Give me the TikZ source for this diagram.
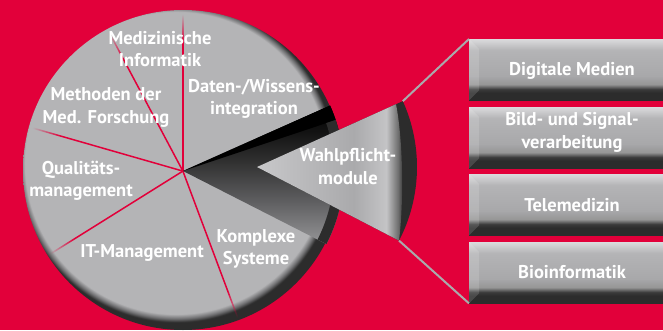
\documentclass[tikz,border=0pt]{standalone}
\usepackage{fontspec}
\setmainfont{PT Sans}
\usetikzlibrary{fadings}
\definecolor{bgred}{RGB}{226,0,58}
\definecolor{pgray}{RGB}{180,180,182}
\definecolor{pmid}{RGB}{112,112,114}
\definecolor{rimdark}{RGB}{44,44,44}
\definecolor{gA}{RGB}{150,150,152}
\definecolor{gB}{RGB}{96,96,98}
\definecolor{gC}{RGB}{48,48,48}
\definecolor{gD}{RGB}{20,20,20}
\definecolor{wA}{RGB}{200,200,202}
\definecolor{wB}{RGB}{184,184,186}
\definecolor{wC}{RGB}{170,170,172}
\definecolor{wD}{RGB}{196,196,198}
\definecolor{wE}{RGB}{110,110,110}
\definecolor{bA}{RGB}{218,218,220}
\definecolor{bB}{RGB}{206,206,208}
\definecolor{bC}{RGB}{180,180,182}
\definecolor{bD}{RGB}{168,168,170}
\definecolor{bE}{RGB}{150,150,150}
\definecolor{bF}{RGB}{58,58,58}
\definecolor{conn}{RGB}{170,170,172}
\pgfdeclareradialshading{pieface}{\pgfpoint{-2.1bp}{2.1bp}}{color(0bp)=(pgray); color(23.6bp)=(pgray); color(24.3bp)=(pmid); color(24.85bp)=(rimdark); color(50bp)=(rimdark)}
\pgfdeclareverticalshading{gapsh}{100bp}{color(0bp)=(gA); color(25bp)=(gA); color(40bp)=(gB); color(55bp)=(gC); color(65bp)=(gD); color(75bp)=(black); color(100bp)=(black)}
\pgfdeclarehorizontalshading{wedgesh}{100bp}{color(0bp)=(wA); color(25bp)=(wA); color(42bp)=(wB); color(58bp)=(wC); color(69bp)=(wD); color(73bp)=(wE); color(75bp)=(rimdark); color(100bp)=(rimdark)}
\pgfdeclareverticalshading{boxsh}{100bp}{color(0bp)=(rimdark); color(25bp)=(rimdark); color(31bp)=(rimdark); color(34bp)=(bF); color(38bp)=(bE); color(45bp)=(bD); color(66bp)=(bC); color(72bp)=(bB); color(75bp)=(bA); color(100bp)=(bA)}
\pgfdeclareradialshading{lfadesh}{\pgfpointorigin}{color(0bp)=(white); color(20bp)=(white); color(24.5bp)=(black); color(50bp)=(black)}
\pgfdeclarefading{linefade}{\pgfuseshading{lfadesh}}
\begin{document}
\begin{tikzpicture}[x=1pt,y=1pt,
  lbl/.style={text=white, font=\bfseries\fontsize{18.5}{22.5}\selectfont, align=center, inner sep=0pt},
  redline/.style={draw=bgred, line width=1.5pt},
  connline/.style={draw=conn, line width=2pt},
  modbox/.style={minimum width=200pt, minimum height=61pt, inner sep=0pt, shading=boxsh,
    path picture={\fill[white, fill opacity=0.14] (path picture bounding box.south west) -- (path picture bounding box.north west) -- ([shift={(10,-10)}]path picture bounding box.north west) -- ([shift={(10,10)}]path picture bounding box.south west) -- cycle;}}]
\useasboundingbox (0,0) rectangle (663,330);
\fill[bgred] (0,0) rectangle (663,330);
% main pie face
\coordinate (A) at (183,159);
\coordinate (C) at (183,160);
\shade[shading=pieface] (C) circle[radius=160];
% section lines
\foreach \ang [count=\i] in {90,118,164,212,290.5}{
  \coordinate (e\i) at ([shift={(\ang:158)}]A);
  \draw[redline, path fading=linefade, fit fading=false, fading transform={shift={(A)}, scale=6.37}] (A) -- (e\i);
}
% gap of the removed slice
\shade[shading=gapsh] (A) -- ([shift={(-27:161)}]A) arc[start angle=-27, end angle=24, radius=161] -- cycle;
\fill[black] (A) -- ([shift={(24:161)}]A) arc[start angle=24, end angle=18.5, radius=161] -- cycle;
\fill[rimdark] ([shift={(-27:151)}]A) arc[start angle=-27, end angle=18.5, radius=151] -- ([shift={(18.5:161)}]A) arc[start angle=18.5, end angle=-27, radius=161] -- cycle;
% exploded slice
\coordinate (W) at (257,163);
\coordinate (wt) at ([shift={(24.3:160)}]W);
\coordinate (wb) at ([shift={(-27.4:160)}]W);
\fill[rimdark] (W) -- (wt) arc[start angle=24.3, end angle=-27.4, radius=160] -- cycle;
\shade[shading=wedgesh] (W) -- (396,225.8) .. controls (403,190) and (404,130) .. (wb) -- cycle;
% labels in the pie
\node[lbl] (tmed) at (160,281) {Medizinische\\Informatik};
\node[lbl] (tdat) at (254,231) {Daten-/Wissens-\\integration};
\node[lbl] (tmet) at (106,222.5) {Methoden der\\Med. Forschung};
\node[lbl] (tqua) at (81,149) {Qualitäts-\\management};
\node[lbl] (twah) at (348,163.5) {Wahlpflicht-\\module};
\node[lbl] (tit) at (142,77) {IT-Management};
\node[lbl] (tkom) at (256,81) {Komplexe\\Systeme};
% module boxes
\node[modbox, anchor=north west] (b1) at (469,291) {};
\node[modbox, anchor=north west] (b2) at (469,223) {};
\node[modbox, anchor=north west] (b3) at (469,156) {};
\node[modbox, anchor=north west] (b4) at (469,88) {};
\node[lbl] (t1) at (572,259) {Digitale Medien};
\node[lbl] (t2) at (572,197.5) {Bild- und Signal-\\verarbeitung};
\node[lbl] (t3) at (572,125) {Telemedizin};
\node[lbl] (t4) at (572,58) {Bioinformatik};
% connectors
\draw[connline] (wt) -- (b1.north west);
\draw[connline] (wb) -- (b4.south west);
\end{tikzpicture}
\end{document}
